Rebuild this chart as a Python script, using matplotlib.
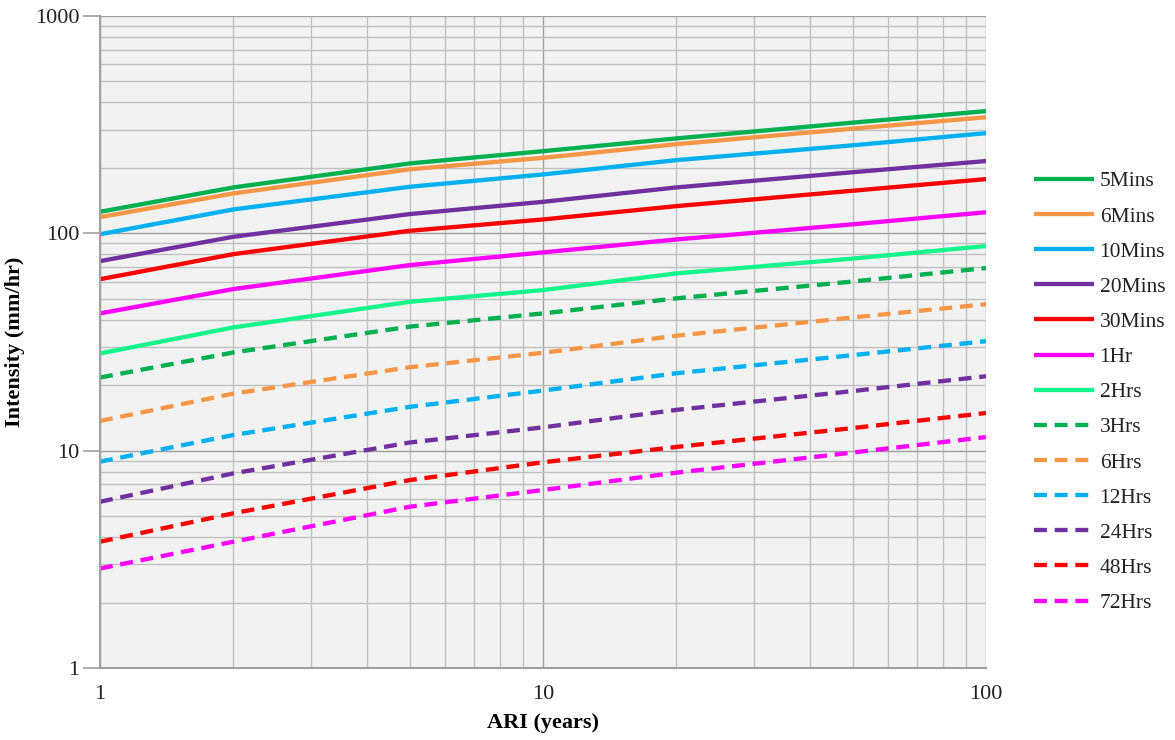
import matplotlib
matplotlib.use("Agg")
import matplotlib.pyplot as plt
from matplotlib.ticker import LogLocator, FuncFormatter, NullFormatter

# Average recurrence intervals (years)
ari = [1, 2, 5, 10, 20, 50, 100]

# Rainfall intensity (mm/hr) for each storm duration
durations = ["5Mins", "6Mins", "10Mins", "20Mins", "30Mins", "1Hr", "2Hrs",
             "3Hrs", "6Hrs", "12Hrs", "24Hrs", "48Hrs", "72Hrs"]
i_5min = [125.6, 162.6, 209.7, 238.8, 273.3, 323.0, 365.0]
i_6min = [118.7, 152.6, 197.0, 222.5, 257.1, 303.0, 342.0]
i_10min = [99.0, 128.8, 163.7, 186.6, 217.1, 254.0, 289.0]
i_20min = [74.5, 96.4, 122.6, 139.6, 162.6, 191.0, 215.0]
i_30min = [61.5, 80.2, 102.7, 115.8, 133.4, 157.0, 177.6]
i_1hr = [42.8, 55.4, 71.4, 81.7, 93.7, 110.0, 125.0]
i_2hr = [28.0, 36.9, 48.4, 54.8, 65.4, 76.5, 87.4]
i_3hr = [21.7, 28.3, 37.2, 42.8, 50.2, 60.0, 69.2]
i_6hr = [13.7, 18.3, 24.2, 28.2, 33.8, 41.0, 47.2]
i_12hr = [8.9, 11.8, 15.9, 18.9, 22.7, 27.5, 31.9]
i_24hr = [5.82, 7.86, 10.9, 12.8, 15.4, 18.8, 22.0]
i_48hr = [3.81, 5.15, 7.32, 8.84, 10.4, 12.7, 14.9]
i_72hr = [2.87, 3.81, 5.52, 6.59, 7.92, 9.8, 11.55]

series = [i_5min, i_6min, i_10min, i_20min, i_30min, i_1hr, i_2hr,
          i_3hr, i_6hr, i_12hr, i_24hr, i_48hr, i_72hr]

colors = ["#00B050", "#F79646", "#00B0F0", "#7030A0", "#FF0000", "#FF00FF",
          "#14F58C", "#00B050", "#F79646", "#00B0F0", "#7030A0", "#FF0000",
          "#FF00FF"]
dashed = [False] * 7 + [True] * 6

plt.rcParams["font.family"] = ["Liberation Serif", "DejaVu Serif"]

fig = plt.figure(figsize=(11.75, 7.4), dpi=100)
ax = fig.add_axes([0.0851, 0.0973, 0.7540, 0.8811])
ax.set_facecolor("#F2F2F2")

for name, vals, col, dsh in zip(durations, series, colors, dashed):
    line, = ax.plot(ari, vals, color=col, lw=3.1, label=name,
                    solid_capstyle="butt", solid_joinstyle="round")
    if dsh:
        line.set_dashes((3.0, 1.8))
        line.set_dash_capstyle("butt")

ax.set_xscale("log")
ax.set_yscale("log")
ax.set_xlim(1, 100)
ax.set_ylim(1, 1000)

ax.xaxis.set_major_locator(LogLocator(base=10))
ax.yaxis.set_major_locator(LogLocator(base=10))
ax.xaxis.set_minor_locator(LogLocator(base=10, subs=range(2, 10)))
ax.yaxis.set_minor_locator(LogLocator(base=10, subs=range(2, 10)))
fmt = FuncFormatter(lambda v, p: f"{v:g}")
ax.xaxis.set_major_formatter(fmt)
ax.yaxis.set_major_formatter(fmt)
ax.xaxis.set_minor_formatter(NullFormatter())
ax.yaxis.set_minor_formatter(NullFormatter())

ax.grid(which="major", color="#A0A0A0", lw=1.0)
ax.grid(which="minor", color="#C0C0C0", lw=1.0)
ax.set_axisbelow(True)

for side in ["top", "right"]:
    ax.spines[side].set_visible(False)
for side in ["left", "bottom"]:
    ax.spines[side].set_color("#A0A0A0")
    ax.spines[side].set_linewidth(1.5)

ax.tick_params(which="major", direction="out", length=12, width=1.2,
               color="#A0A0A0", labelsize=16, labelcolor="#222222", pad=3)
ax.tick_params(which="minor", length=0)
ax.tick_params(axis="x", which="major", length=0, pad=12)

ax.set_xlabel("ARI (years)", fontsize=16, fontweight="bold", labelpad=7)
ax.set_ylabel("Intensity (mm/hr)", fontsize=16, fontweight="bold", labelpad=7)

leg = fig.legend(loc="center left", bbox_to_anchor=(0.880, 0.470),
                 frameon=False, fontsize=15.5, handlelength=2.8,
                 handletextpad=0.25, labelspacing=0.70, borderpad=0,
                 borderaxespad=0)
for txt in leg.get_texts():
    txt.set_color("#222222")

fig.savefig("out.png", dpi=100)
